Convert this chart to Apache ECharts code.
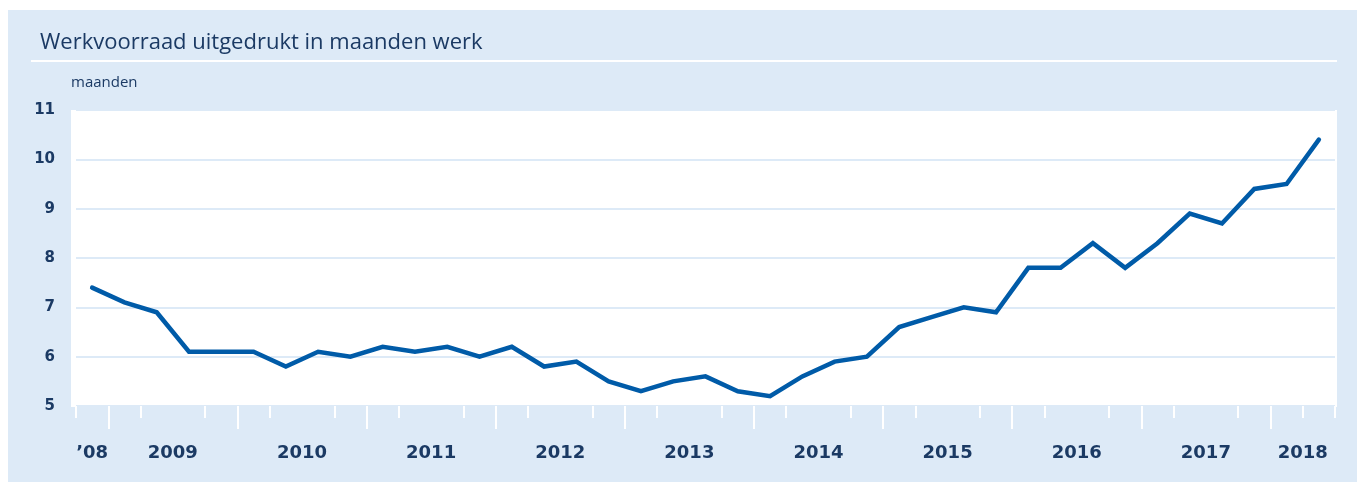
<!DOCTYPE html>
<html>
<head>
<meta charset="utf-8">
<script src="https://cdn.jsdelivr.net/npm/echarts@6/dist/echarts.min.js"></script>
<style>
  html, body { margin: 0; padding: 0; background: #fff; }
  #wrap { position: relative; width: 1357px; height: 482px; overflow: hidden; }
  .panel { position: absolute; left: 8px; top: 10px; right: 0; bottom: 0; background: #ddeaf7; }
  .rule { position: absolute; left: 31px; top: 60px; width: 1306px; height: 2px; background: #fff; }
  .plot { position: absolute; left: 71px; top: 110px; width: 1266px; height: 297px; background: #fff; }
  #main { position: absolute; left: 0; top: 0; width: 1357px; height: 482px; }
</style>
</head>
<body>
<div id="wrap">
  <div class="panel"></div>
  <div class="rule"></div>
  <div class="plot"></div>
  <div id="main"></div>
</div>
<script>
// kwartalen, van 2008 K4 t/m 2018 K2
var quarters = [
  '2008 K4',
  '2009 K1', '2009 K2', '2009 K3', '2009 K4',
  '2010 K1', '2010 K2', '2010 K3', '2010 K4',
  '2011 K1', '2011 K2', '2011 K3', '2011 K4',
  '2012 K1', '2012 K2', '2012 K3', '2012 K4',
  '2013 K1', '2013 K2', '2013 K3', '2013 K4',
  '2014 K1', '2014 K2', '2014 K3', '2014 K4',
  '2015 K1', '2015 K2', '2015 K3', '2015 K4',
  '2016 K1', '2016 K2', '2016 K3', '2016 K4',
  '2017 K1', '2017 K2', '2017 K3', '2017 K4',
  '2018 K1', '2018 K2'
];
// werkvoorraad in maanden
var werkvoorraad = [
  7.4,
  7.1, 6.9, 6.1, 6.1,
  6.1, 5.8, 6.1, 6.0,
  6.2, 6.1, 6.2, 6.0,
  6.2, 5.8, 5.9, 5.5,
  5.3, 5.5, 5.6, 5.3,
  5.2, 5.6, 5.9, 6.0,
  6.6, 6.8, 7.0, 6.9,
  7.8, 7.8, 8.3, 7.8,
  8.3, 8.9, 8.7, 9.4,
  9.5, 10.4
];
var years = ['2008', '2009', '2010', '2011', '2012', '2013', '2014', '2015', '2016', '2017', '2018'];
var yearLabels = ['\u201908', '2009', '2010', '2011', '2012', '2013', '2014', '2015', '2016', '2017', '2018'];
var yTicks = [5, 6, 7, 8, 9, 10, 11];

// midden en begin van elk jaar op de kwartaal-schaal
var yearMid = [], yearStart = [];
years.forEach(function (y) {
  var idx = [];
  quarters.forEach(function (q, i) { if (q.indexOf(y) === 0) idx.push(i); });
  yearMid.push((idx[0] + idx[idx.length - 1] + 1) / 2);
  if (idx[0] > 0) yearStart.push(idx[0]);
});

var navy = '#1b3a64';
var chart = echarts.init(document.getElementById('main'));
var grid = { left: 76, right: 22, top: 110, bottom: 76 };

var option = {
  backgroundColor: 'transparent',
  animation: false,
  title: {
    text: 'Werkvoorraad uitgedrukt in maanden werk',
    left: 35, top: 27,
    textStyle: { fontFamily: 'Open Sans', fontSize: 22, fontWeight: 'normal', color: navy }
  },
  graphic: [{
    type: 'text', left: 71, top: 75,
    style: { text: 'maanden', fontFamily: 'Open Sans', fontSize: 15, fill: navy }
  }],
  grid: grid,
  xAxis: [{
    type: 'category',
    data: quarters,
    boundaryGap: true,
    axisLine: { show: false },
    axisTick: { show: true, length: 12, lineStyle: { color: '#fff', width: 2 } },
    axisLabel: { show: false },
    splitLine: { show: false }
  }, {
    type: 'value',
    min: 0,
    max: quarters.length,
    position: 'bottom',
    axisLine: { show: false },
    axisTick: { show: true, length: 23, customValues: yearStart, lineStyle: { color: '#fff', width: 2 } },
    axisLabel: {
      customValues: yearMid,
      margin: 38,
      fontFamily: 'DejaVu Sans', fontWeight: 'bold', fontSize: 18, color: navy,
      formatter: function (v) {
        var i = yearMid.indexOf(v);
        return i >= 0 ? yearLabels[i] : '';
      }
    },
    splitLine: { show: false }
  }],
  yAxis: {
    type: 'value',
    min: yTicks[0],
    max: yTicks[yTicks.length - 1],
    interval: 1,
    axisLine: { show: false },
    axisTick: { show: false },
    axisLabel: { margin: 21, fontFamily: 'DejaVu Sans', fontWeight: 'bold', fontSize: 15, color: navy },
    splitLine: { lineStyle: { color: '#ddeaf7', width: 2 } }
  },
  series: [{
    type: 'line',
    xAxisIndex: 0,
    data: werkvoorraad,
    symbol: 'none',
    lineStyle: { color: '#005ba8', width: 4.5, cap: 'round', join: 'miter' }
  }]
};
chart.setOption(option);
</script>
</body>
</html>
